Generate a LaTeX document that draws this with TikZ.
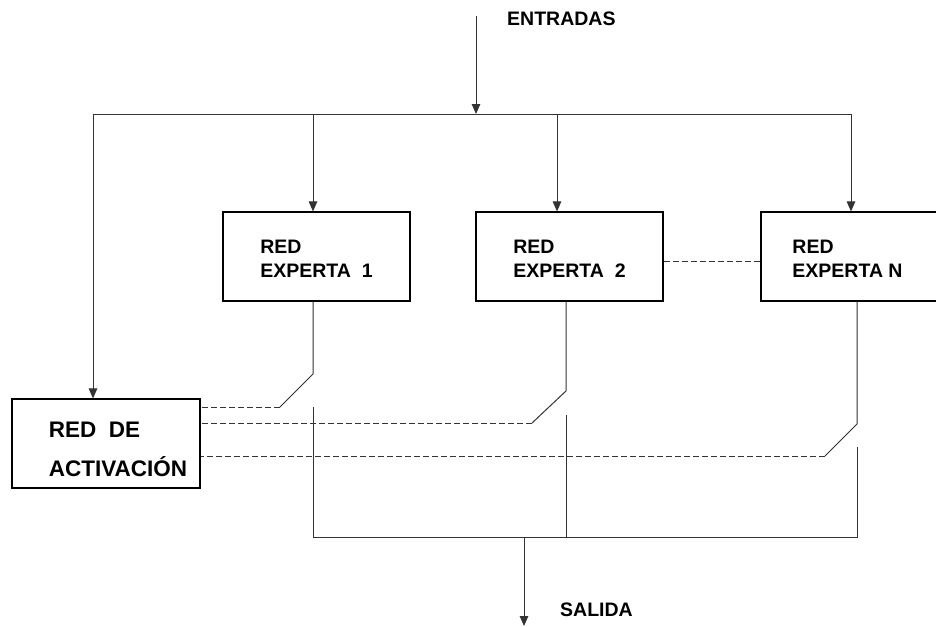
\documentclass[tikz,border=0pt]{standalone}
\usepackage{fontspec}
\setmainfont{Liberation Sans}
\usetikzlibrary{arrows.meta,calc}
\begin{document}
\begin{tikzpicture}[x=1pt,y=-1pt,
  wire/.style={draw=black!80,line width=1pt},
  feed/.style={wire,-{Triangle[width=8.5pt,length=10pt]}},
  ctrl/.style={draw=black!80,line width=1pt,dash pattern=on 6pt off 3pt},
  netbox/.style={draw=black,line width=1.1pt,rectangle,minimum width=187pt,minimum height=89pt,inner sep=0pt},
  lbl/.style={font=\bfseries\fontsize{19.5}{24}\selectfont,inner sep=0pt,align=left},
  biglbl/.style={font=\bfseries\fontsize{22.5}{39}\selectfont,inner sep=0pt,align=left}]
\useasboundingbox (0,0) rectangle (936,626);

% network boxes
\node[netbox] (e1) at (316.5,256.5) {};
\node[netbox] (e2) at (569.5,256.5) {};
\node[netbox] (eN) at (854.5,256.5) {};
\node[netbox,minimum width=188pt] (act) at (106,443.5) {};

% box texts (canvas y points up, so a negative yshift lowers them)
\node[lbl] (t-e1) at ([yshift=-2pt]e1.center) {RED\\EXPERTA\ \ 1};
\node[lbl] (t-e2) at ([yshift=-2pt]e2.center) {RED\\EXPERTA\ \ 2};
\node[lbl] (t-eN) at ([xshift=-7pt,yshift=-2pt]eN.center) {RED\\EXPERTA\ N};
\node[biglbl] (t-act) at ([xshift=12pt,yshift=-6pt]act.center) {RED\ \ DE\\ACTIVACIÓN};

% input and output labels
\node[lbl,anchor=base west] (entradas) at (507,26) {ENTRADAS};
\node[lbl,anchor=base west] (salida) at (560,616) {SALIDA};

% input distribution
\coordinate (inTop) at (476,16);
\coordinate (inJ) at (476,114);
\coordinate (busL) at (93,114);
\coordinate (busR) at (851,114);
\coordinate (tap1) at (313,114);
\coordinate (tap2) at (557,114);

\draw[feed] (inTop) -- (inJ);
\draw[wire] (busL) -- (busR);
\draw[feed] (busL) -- (busL |- act.north);
\draw[feed] (tap1) -- (tap1 |- e1.north);
\draw[feed] (tap2) -- (tap2 |- e2.north);
\draw[feed] (busR) -- (busR |- eN.north);

% link between expert networks
\draw[ctrl] ([yshift=-4.5pt]e2.east) -- ([yshift=-4.5pt]eN.west);

% output switches
\coordinate (sw1a) at (313,374);
\coordinate (sw1b) at (280,407);
\coordinate (sw1c) at (313,407);
\coordinate (sw2a) at (566,391);
\coordinate (sw2b) at (532,423);
\coordinate (sw2c) at (566,415);
\coordinate (swNa) at (857,424);
\coordinate (swNb) at (825,456);
\coordinate (swNc) at (857,447);

\draw[wire] (sw1a |- e1.south) -- (sw1a) -- (sw1b);
\draw[wire] (sw2a |- e2.south) -- (sw2a) -- (sw2b);
\draw[wire] (swNa |- eN.south) -- (swNa) -- (swNb);

% gating signals
\draw[ctrl] (sw1b) -- (sw1b -| act.east);
\draw[ctrl] (sw2b) -- (sw2b -| act.east);
\draw[ctrl] (swNb) -- (swNb -| act.east);

% output combination
\coordinate (obL) at (313,537);
\coordinate (obR) at (857,537);
\coordinate (outJ) at (524,537);
\coordinate (outEnd) at (524,626);

\draw[wire] (sw1c) -- (obL) -- (obR) -- (swNc);
\draw[wire] (sw2c) -- (sw2c |- obL);
\draw[feed] (outJ) -- (outEnd);
\end{tikzpicture}
\end{document}
